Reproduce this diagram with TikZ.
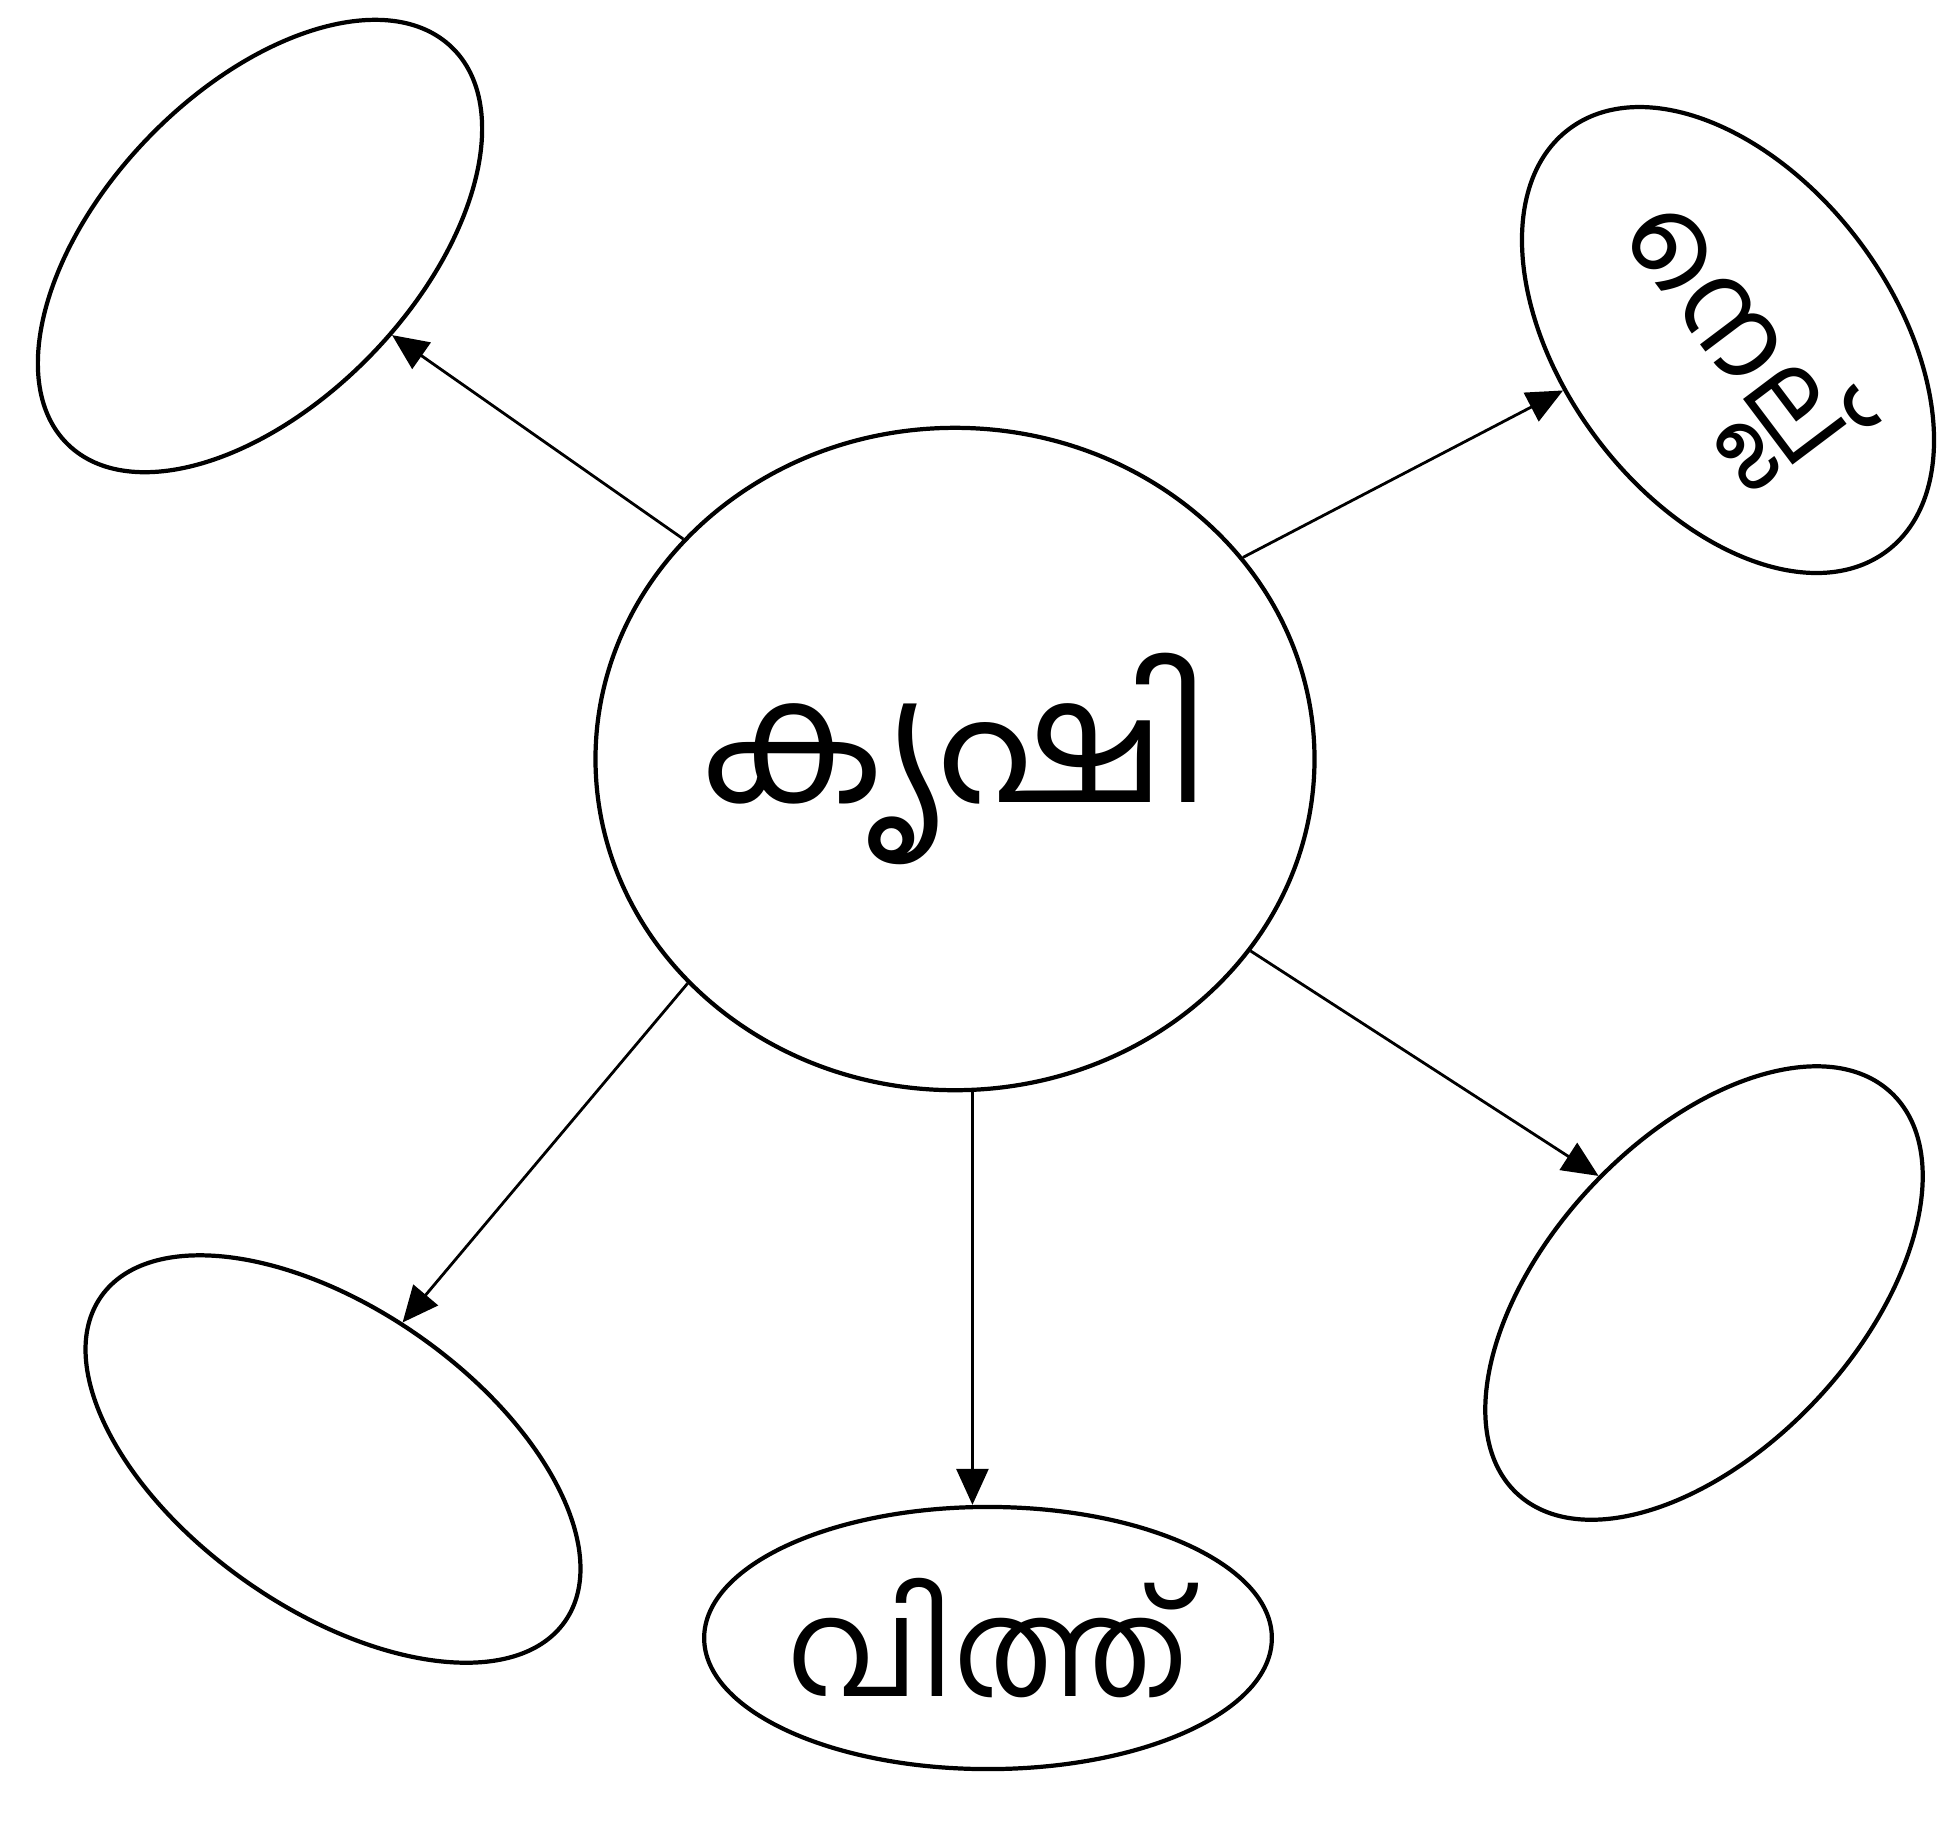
\documentclass[tikz,border=0pt]{standalone}
\usepackage{fontspec}
\newfontfamily\malfont[Script=Malayalam]{Hind Kochi}
\usetikzlibrary{shapes.geometric, arrows.meta}

\begin{document}
\begin{tikzpicture}[
    x=0.01cm, y=-0.01cm,
    bubble/.style={draw, ellipse, line width=1.2pt, inner sep=0pt, font=\malfont\fontsize{38}{44}\selectfont},
    arr/.style={-{Triangle[length=3.6mm, width=3.2mm]}, line width=0.8pt},
]
\useasboundingbox (0,0) rectangle (1960,1841);

% === CENTER: main topic ===
\node[bubble, minimum width=7.16cm, minimum height=6.62cm, font=\malfont\fontsize{48}{56}\selectfont] (krishi) at (955,759) {കൃഷി};

% --- Outer ellipses ---
\node[bubble, minimum width=5.52cm, minimum height=3.11cm, rotate=46] (topleft) at (260,246) {};
\node[bubble, minimum width=5.28cm, minimum height=3.28cm, rotate=-53, font=\malfont\fontsize{33}{38}\selectfont] (nellu) at (1728,340) {നെല്ല്};
\node[bubble, minimum width=5.66cm, minimum height=3.00cm, rotate=-35] (botleft) at (333,1459) {};
\node[bubble, minimum width=5.48cm, minimum height=3.10cm, rotate=47] (botright) at (1704,1293) {};
\node[bubble, minimum width=5.64cm, minimum height=2.62cm] (vithu) at (988,1638) {വിത്ത്};

% --- Arrows from the centre ---
\draw[arr] (krishi.141) -- (topleft.-80);
\draw[arr] (krishi.35) -- (nellu.250);
\draw[arr] (krishi.-33) -- (botright.85);
\draw[arr] (krishi.220) -- (botleft.98);
\draw[arr] (krishi.-87) -- (krishi.-87 |- vithu.north);

\end{tikzpicture}
\end{document}
